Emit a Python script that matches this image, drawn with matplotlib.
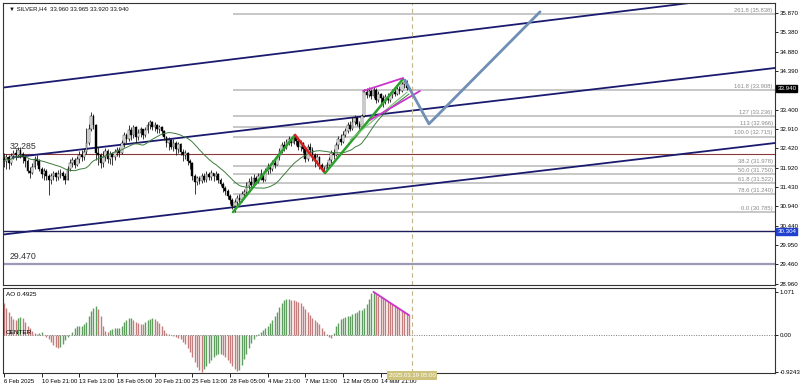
import numpy as np
import pandas as pd
import matplotlib
matplotlib.use('Agg')
import matplotlib.pyplot as plt
plt.rcParams['font.family'] = ['Liberation Sans', 'DejaVu Sans']

# SILVER H4 candles (open = previous close)
first_open = 32.15
closes = [32.10, 32.20, 32.05, 32.22, 32.30, 32.25, 32.38, 32.28, 32.20, 32.10,
          31.85, 31.80, 31.95, 32.15, 32.10, 31.90, 31.75, 31.85, 31.70, 31.62,
          31.70, 31.78, 31.68, 31.75, 31.80, 31.70, 31.62, 31.90, 32.05, 32.12,
          32.00, 32.15, 32.25, 32.20, 32.32, 32.55, 32.90, 33.25, 33.00, 32.30,
          32.25, 32.05, 32.20, 32.35, 32.15, 32.28, 32.20, 32.32, 32.38, 32.30,
          32.55, 32.75, 32.65, 32.88, 32.75, 32.95, 32.70, 32.80, 32.90, 32.75,
          32.88, 33.00, 33.10, 32.95, 33.02, 32.90, 32.96, 32.85, 32.70, 32.55,
          32.62, 32.45, 32.55, 32.40, 32.52, 32.32, 32.25, 32.30, 32.10, 32.05,
          31.70, 31.55, 31.65, 31.58, 31.72, 31.60, 31.75, 31.68, 31.78, 31.70,
          31.75, 31.60, 31.50, 31.40, 31.32, 31.20, 31.10, 30.95, 31.05, 31.15,
          31.10, 31.25, 31.30, 31.45, 31.55, 31.48, 31.65, 31.55, 31.70, 31.75,
          31.62, 31.85, 31.95, 31.88, 32.05, 32.00, 32.20, 32.35, 32.50, 32.42,
          32.58, 32.65, 32.55, 32.70, 32.60, 32.45, 32.55, 32.40, 32.15, 32.45,
          32.38, 32.25, 32.10, 32.20, 31.98, 31.90, 31.88, 32.00, 32.12, 32.30,
          32.25, 32.50, 32.65, 32.58, 32.75, 32.85, 33.00, 32.92, 33.10, 33.20,
          33.05, 32.95, 33.25, 33.85, 33.78, 33.88, 33.75, 33.90, 33.65, 33.80,
          33.70, 33.60, 33.72, 33.65, 33.78, 33.85, 33.80, 33.92, 33.88, 34.05,
          34.12, 33.96, 33.94]
highs = [32.30, 32.28, 32.25, 32.30, 32.38, 32.40, 32.46, 32.44, 32.32, 32.25,
         32.15, 31.95, 32.05, 32.22, 32.25, 32.15, 31.95, 31.92, 31.88, 31.75,
         31.78, 31.85, 31.82, 31.86, 31.90, 31.84, 31.78, 31.96, 32.15, 32.20,
         32.18, 32.22, 32.34, 32.38, 32.40, 32.93, 33.05, 33.34, 33.30, 33.05,
         32.45, 32.30, 32.35, 32.42, 32.40, 32.36, 32.32, 32.40, 32.45, 32.44,
         32.62, 32.83, 32.82, 33.00, 32.95, 33.02, 32.98, 32.90, 32.96, 32.92,
         32.95, 33.08, 33.14, 33.12, 33.08, 33.05, 33.02, 32.98, 32.88, 32.74,
         32.70, 32.66, 32.65, 32.60, 32.58, 32.55, 32.40, 32.38, 32.32, 32.15,
         32.08, 31.75, 31.72, 31.70, 31.80, 31.78, 31.85, 31.82, 31.86, 31.80,
         31.83, 31.78, 31.65, 31.55, 31.45, 31.38, 31.25, 31.15, 31.12, 31.22,
         31.25, 31.32, 31.38, 31.55, 31.66, 31.70, 31.75, 31.72, 31.80, 31.88,
         31.80, 31.92, 32.05, 32.02, 32.12, 32.18, 32.28, 32.42, 32.58, 32.60,
         32.66, 32.72, 32.70, 32.76, 32.74, 32.65, 32.62, 32.58, 32.45, 32.52,
         32.55, 32.45, 32.30, 32.28, 32.22, 32.05, 31.96, 32.08, 32.20, 32.38,
         32.40, 32.58, 32.72, 32.78, 32.86, 32.93, 33.10, 33.12, 33.22, 33.27,
         33.25, 33.12, 33.30, 33.92, 33.95, 33.98, 33.92, 33.98, 33.95, 33.88,
         33.84, 33.78, 33.80, 33.82, 33.86, 33.92, 33.96, 34.02, 34.00, 34.10,
         34.18, 34.15, 33.965]
lows = [31.95, 31.90, 31.88, 32.00, 32.15, 32.12, 32.20, 32.18, 32.05, 31.95,
        31.78, 31.66, 31.75, 31.90, 32.00, 31.85, 31.65, 31.62, 31.60, 31.23,
        31.50, 31.62, 31.58, 31.62, 31.66, 31.60, 31.50, 31.60, 31.85, 31.95,
        31.92, 31.96, 32.05, 32.10, 32.12, 32.28, 32.50, 32.85, 32.90, 32.12,
        32.00, 31.91, 31.95, 32.10, 32.05, 32.02, 32.00, 32.12, 32.22, 32.20,
        32.28, 32.46, 32.55, 32.60, 32.62, 32.68, 32.55, 32.62, 32.70, 32.66,
        32.70, 32.80, 32.90, 32.88, 32.85, 32.82, 32.80, 32.76, 32.62, 32.45,
        32.38, 32.40, 32.35, 32.25, 32.30, 32.25, 32.10, 32.15, 32.00, 31.90,
        31.60, 31.25, 31.48, 31.50, 31.52, 31.55, 31.56, 31.60, 31.62, 31.58,
        31.62, 31.52, 31.45, 31.30, 31.22, 31.12, 31.00, 30.88, 30.79, 30.95,
        31.00, 31.05, 31.15, 31.25, 31.38, 31.40, 31.45, 31.50, 31.52, 31.60,
        31.55, 31.58, 31.75, 31.78, 31.85, 31.92, 31.98, 32.12, 32.30, 32.35,
        32.40, 32.50, 32.48, 32.52, 32.50, 32.38, 32.35, 32.30, 32.07, 32.10,
        32.25, 32.10, 31.95, 32.00, 31.90, 31.84, 31.80, 31.85, 31.95, 32.05,
        32.15, 32.22, 32.40, 32.50, 32.55, 32.70, 32.80, 32.85, 32.88, 33.00,
        32.98, 32.90, 32.92, 33.22, 33.70, 33.72, 33.68, 33.70, 33.57, 33.60,
        33.55, 33.48, 33.55, 33.58, 33.60, 33.70, 33.74, 33.78, 33.80, 33.85,
        33.95, 33.90, 33.92]

# Awesome Oscillator values, bar by bar
ao_values = [0.79, 0.67, 0.57, 0.46, 0.39, 0.37, 0.42, 0.44, 0.42, 0.33,
             0.23, 0.17, 0.11, 0.06, 0.03, 0.05, 0.07, 0.01, -0.04, -0.10,
             -0.18, -0.25, -0.30, -0.33, -0.30, -0.23, -0.12, -0.05, -0.01, 0.07,
             0.18, 0.22, 0.225, 0.23, 0.27, 0.32, 0.46, 0.60, 0.68, 0.72,
             0.65, 0.48, 0.21, 0.10, 0.08, 0.12, 0.15, 0.16, 0.17, 0.18,
             0.23, 0.32, 0.38, 0.42, 0.43, 0.38, 0.32, 0.29, 0.28, 0.27,
             0.32, 0.37, 0.39, 0.41, 0.39, 0.35, 0.29, 0.21, 0.12, 0.06,
             0.02, 0.005, -0.02, -0.04, -0.07, -0.11, -0.17, -0.23, -0.32, -0.42,
             -0.54, -0.67, -0.79, -0.88, -0.92, -0.86, -0.78, -0.70, -0.62, -0.56,
             -0.51, -0.48, -0.47, -0.49, -0.55, -0.62, -0.69, -0.77, -0.84, -0.90,
             -0.87, -0.74, -0.61, -0.47, -0.33, -0.19, -0.09, -0.03, 0.03, 0.08,
             0.12, 0.17, 0.22, 0.29, 0.37, 0.46, 0.58, 0.70, 0.80, 0.86,
             0.89, 0.90, 0.88, 0.87, 0.85, 0.83, 0.79, 0.73, 0.65, 0.57,
             0.50, 0.43, 0.38, 0.33, 0.27, 0.18, 0.10, 0.03, -0.04, -0.08,
             0.04, 0.21, 0.29, 0.40, 0.43, 0.45, 0.46, 0.48, 0.52, 0.54,
             0.58, 0.62, 0.63, 0.68, 0.77, 0.90, 1.04, 1.071, 1.03, 0.98,
             0.94, 0.91, 0.87, 0.83, 0.80, 0.77, 0.74, 0.70, 0.67, 0.63,
             0.59, 0.55, 0.4925]

time_labels = ['6 Feb 2025', '10 Feb 21:00', '13 Feb 13:00', '18 Feb 05:00',
               '20 Feb 21:00', '25 Feb 13:00', '28 Feb 05:00', '4 Mar 21:00',
               '7 Mar 13:00', '12 Mar 05:00', '14 Mar 21:00']
price_ticks = [35.870, 35.380, 34.880, 34.390, 33.400, 32.910, 32.420,
               31.920, 31.430, 30.940, 30.440, 29.950, 29.460, 28.960]

fib_levels = ['261.8', '161.8', '127', '113', '100.0', '38.2', '50.0', '61.8', '78.6', '0.0']
fib_prices = [35.838, 33.908, 33.236, 32.966, 32.715, 31.978, 31.750, 31.522, 31.240, 30.785]
fib_start = 97.3

# drawn objects: (bar index, price) anchors
channel_lines = [((0, 33.97), (300, 36.19)),
                 ((0, 32.158), (300, 34.273)),
                 ((0, 30.22), (300, 32.357))]
swing_up1 = [(97.3, 30.79), (123.6, 32.758)]
swing_down = [(123.6, 32.758), (136.4, 31.788)]
swing_up2 = [(136.4, 31.788), (169.5, 34.186)]
thin_green = [(147.0, 32.63), (171.2, 33.85)]
wedge_top = [(152.5, 33.88), (169.5, 34.21)]
wedge_bottom = [(155.5, 33.14), (176.7, 33.88)]
projection = [(170.3, 34.16), (180.5, 33.04), (227.7, 35.90)]
ao_div = [(157, 1.071), (172, 0.4925)]

level_brown = 32.285
level_navy = 30.304
level_grey = 29.470
last_price = 33.940
cursor_idx = 173.3

x_left, x_right = -0.42, 327.5
fs = 4.4

fig = plt.figure(figsize=(8, 3.9), dpi=100)
ax = fig.add_axes([3/800, 1-285/390, 772/800, 282/390])
ao_ax = fig.add_axes([3/800, 1-373/390, 772/800, 85/390], sharex=ax)

idx = np.arange(len(closes))
c = np.array(closes)
o = np.array([first_open] + closes[:-1])
h = np.array(highs)
l = np.array(lows)

# fibo + horizontal levels
ax.hlines(fib_prices, fib_start, x_right, color='#bdbdbd', lw=1.2, zorder=1)
for lev, p in zip(fib_levels, fib_prices):
    ax.text(x_right - 1, p + 0.03, '%s (%.3f)' % (lev, p), ha='right', va='bottom',
            fontsize=4.2, color='#8a8a8a', zorder=6)
ax.axhline(level_brown, color='#8b3a3a', lw=0.8, zorder=1)
ax.axhline(level_navy, color='#1c1c5a', lw=1.0, zorder=1)
ax.axhline(level_grey, color='#9a9ab6', lw=1.6, zorder=1)
ax.text(2.5, level_brown + 0.06, '%.3f' % level_brown, fontsize=6.3, color='#333333', va='bottom')
ax.text(2.5, level_grey + 0.06, '%.3f' % level_grey, fontsize=6.3, color='#333333', va='bottom')

for p1, p2 in channel_lines:
    ax.axline(p1, p2, color='#1a1a6e', lw=1.3, zorder=2)

# candles
ax.vlines(idx, l, h, color='#1a1a1a', lw=0.6, zorder=3)
body_lo = np.minimum(o, c)
body_h = np.maximum(np.abs(c - o), 0.01)
bull = c >= o
ax.bar(idx, body_h, bottom=body_lo, width=0.75,
       color=np.where(bull, 'white', 'black'), edgecolor='black', linewidth=0.3, zorder=3)

ma = pd.Series(closes).rolling(21, min_periods=1).mean()
ax.plot(idx, ma, color='#3d7d3d', lw=0.7, zorder=4)

def seg(pts, **kw):
    xs, ys = zip(*pts)
    ax.plot(xs, ys, solid_capstyle='round', **kw)

seg(swing_up1, color='#2ca02c', lw=1.8, zorder=5)
seg(swing_down, color='#d42020', lw=1.8, zorder=5)
seg(swing_up2, color='#2ca02c', lw=1.8, zorder=5)
seg(thin_green, color='#77c077', lw=0.8, zorder=5)
seg(wedge_top, color='#cc33cc', lw=1.3, zorder=5)
seg(wedge_bottom, color='#cc33cc', lw=1.3, zorder=5)
seg(projection, color='#6f8fb5', lw=2.0, zorder=5)

for a in (ax, ao_ax):
    a.axvline(cursor_idx, color='#c4b48a', lw=0.8, ls=(0, (4, 3)), zorder=2)

ax.set_xlim(x_left, x_right)
ax.set_ylim(28.93, 36.125)
ax.yaxis.tick_right()
ax.set_yticks(price_ticks)
ax.set_yticklabels(['%.3f' % t for t in price_ticks])
ax.tick_params(axis='y', labelsize=fs, length=2, pad=1.2, width=0.6)
ax.tick_params(axis='x', bottom=False, labelbottom=False)

ax.text(1.003, last_price, '%.3f' % last_price, transform=ax.get_yaxis_transform(),
        fontsize=fs, color='white', va='center', ha='left',
        bbox=dict(boxstyle='square,pad=0.15', fc='black', ec='black'), zorder=10, clip_on=False)
ax.text(1.003, level_navy, '%.3f' % level_navy, transform=ax.get_yaxis_transform(),
        fontsize=fs, color='white', va='center', ha='left',
        bbox=dict(boxstyle='square,pad=0.15', fc='#2040d0', ec='#2040d0'), zorder=10, clip_on=False)
ax.text(0.008, 0.988, '\u25bc SILVER,H4  33.960 33.965 33.920 33.940', transform=ax.transAxes,
        fontsize=4.3, va='top', ha='left', color='#111111')

# AO panel
ao = np.array(ao_values)
up = np.r_[False, ao[1:] > ao[:-1]]
ao_idx = np.arange(len(ao))
ao_ax.vlines(ao_idx, 0, ao, colors=np.where(up, '#5e9e5e', '#c47d7d'), lw=1.0)
ao_ax.axhline(0, color='#7a7a7a', lw=0.7, ls=(0, (1, 1.5)))
xs, ys = zip(*ao_div)
ao_ax.plot(xs, ys, color='#cc33cc', lw=1.3)
ao_ax.set_ylim(-0.95, 1.17)
ao_ax.yaxis.tick_right()
ao_ax.set_yticks([1.071, 0.0, -0.9243])
ao_ax.set_yticklabels(['1.071', '0.00', '-0.9243'])
ao_ax.tick_params(axis='y', labelsize=fs, length=2, pad=1.2, width=0.6)
ao_ax.text(0.004, 0.95, 'AO 0.4925', transform=ao_ax.transAxes, fontsize=4.6, va='top')
ao_ax.text(0.003, 0.0, 'CENTER', transform=ao_ax.get_yaxis_transform(), fontsize=4.6, va='bottom')

ao_ax.set_xticks(np.arange(len(time_labels)) * 16)
ao_ax.set_xticklabels(time_labels, ha='left')
ao_ax.tick_params(axis='x', labelsize=4.3, length=3, pad=1.5, width=0.6)
ao_ax.text(cursor_idx, -0.95, '2025.03.19 05:00', transform=ao_ax.transData, fontsize=4.3,
           color='white', ha='center', va='top',
           bbox=dict(boxstyle='square,pad=0.3', fc='#cdc37c', ec='none'), zorder=10, clip_on=False)

for a in (ax, ao_ax):
    for s in a.spines.values():
        s.set_linewidth(0.8)
        s.set_color('#333333')

fig.savefig('out.png', dpi=100, facecolor='white')
